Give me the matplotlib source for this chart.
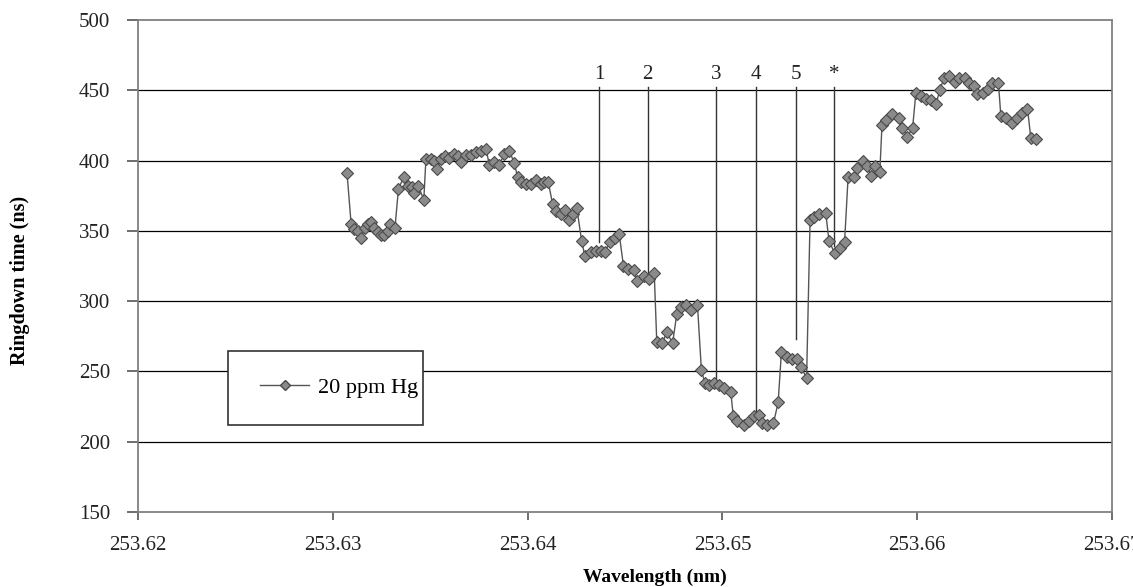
import numpy as np
import matplotlib
matplotlib.use("Agg")
import matplotlib.pyplot as plt
from matplotlib.patches import Rectangle
from matplotlib.lines import Line2D

matplotlib.rcParams.update({"font.family": "Liberation Serif"})

# Messdaten: Ringdown-Zeit gegen Wellenlänge (20 ppm Hg)
wavelength = [
    253.63073, 253.63094, 253.63111, 253.63128, 253.63145, 253.63163, 253.63179,
    253.63196, 253.63214, 253.63231, 253.63248, 253.63265, 253.63282, 253.63296,
    253.63319, 253.63337, 253.63364, 253.63385, 253.63405, 253.63419, 253.63439,
    253.63467, 253.63478, 253.63504, 253.63522, 253.63535, 253.63555, 253.63576,
    253.63598, 253.63624, 253.63641, 253.63658, 253.63684, 253.63709, 253.63735,
    253.63761, 253.63786, 253.63804, 253.63829, 253.63855, 253.63881, 253.63906,
    253.63932, 253.63949, 253.63966, 253.63991, 253.64017, 253.64043, 253.64068,
    253.64086, 253.64106, 253.64128, 253.64145, 253.64171, 253.64191, 253.64214,
    253.64231, 253.64253, 253.64277, 253.64294, 253.64325, 253.64350, 253.64376,
    253.64396, 253.64424, 253.64448, 253.64470, 253.64492, 253.64513, 253.64544,
    253.64564, 253.64595, 253.64624, 253.64650, 253.64663, 253.64692, 253.64714,
    253.64744, 253.64766, 253.64786, 253.64812, 253.64837, 253.64872, 253.64892,
    253.64909, 253.64932, 253.64957, 253.64983, 253.65009, 253.65043, 253.65056,
    253.65077, 253.65111, 253.65137, 253.65163, 253.65188, 253.65205, 253.65231,
    253.65262, 253.65286, 253.65303, 253.65330, 253.65359, 253.65385, 253.65405,
    253.65432, 253.65450, 253.65470, 253.65496, 253.65530, 253.65547, 253.65576,
    253.65604, 253.65627, 253.65645, 253.65675, 253.65692, 253.65723, 253.65744,
    253.65762, 253.65785, 253.65808, 253.65819, 253.65840, 253.65870, 253.65904,
    253.65922, 253.65950, 253.65976, 253.65993, 253.66019, 253.66045, 253.66070,
    253.66096, 253.66116, 253.66138, 253.66164, 253.66195, 253.66215, 253.66246,
    253.66267, 253.66292, 253.66309, 253.66338, 253.66361, 253.66383, 253.66417,
    253.66429, 253.66455, 253.66486, 253.66514, 253.66540, 253.66566, 253.66583,
    253.66609,
]
ringdown = [
    391, 355, 351, 350, 345, 352, 355,
    356, 352, 349, 347, 347, 350, 355,
    352, 380, 388, 382, 381, 377, 382,
    372, 401, 401, 400, 394, 401, 403,
    402, 405, 403, 399, 404, 404, 406,
    407, 408, 397, 399, 397, 405, 407,
    398, 388, 385, 383, 383, 386, 383,
    385, 385, 369, 364, 362, 365, 358,
    362, 366, 343, 332, 335, 336, 336,
    335, 342, 345, 348, 325, 323, 322,
    314, 318, 316, 320, 271, 270, 278,
    270, 291, 296, 297, 294, 297, 251,
    242, 240, 242, 240, 238, 235, 218,
    215, 212, 215, 218, 219, 213, 212,
    213, 228, 264, 260, 259, 259, 253,
    245, 358, 360, 362, 363, 343, 334,
    338, 342, 388, 388, 395, 400, 396,
    389, 396, 392, 425, 429, 433, 430,
    423, 417, 423, 448, 446, 444, 443,
    440, 450, 459, 460, 456, 459, 459,
    455, 453, 447, 448, 451, 455, 455,
    432, 430, 427, 430, 434, 437, 416,
    415,
]

# Markierte Linien (Beschriftung, Wellenlänge, unteres Ende)
mark_labels = ["1", "2", "3", "4", "5", "*"]
mark_wl = [253.64366, 253.64617, 253.64968, 253.65173, 253.65378, 253.65574]
mark_bottom = [342, 318, 243, 218, 273, 339]
MARK_TOP = 452

xticks = [253.62, 253.63, 253.64, 253.65, 253.66, 253.67]
yticks = [150, 200, 250, 300, 350, 400, 450, 500]

fig = plt.figure(figsize=(11.33, 5.87), dpi=100)
ax = fig.add_axes([0.1218, 0.1278, 0.8597, 0.8382])

ax.set_xlim(253.62, 253.67)
ax.set_ylim(150, 500)

# horizontale Gitterlinien
for y in yticks[1:-1]:
    ax.axhline(y, color="black", linewidth=0.9, zorder=1)

# senkrechte Markierungslinien mit Beschriftung
for lab, x, yb in zip(mark_labels, mark_wl, mark_bottom):
    ax.plot([x, x], [yb, MARK_TOP], color="#333333", linewidth=1.0, zorder=2)
    ax.text(x, 461, lab, ha="center", va="center", fontsize=15, color="#222222")

ax.plot(wavelength, ringdown, "-", color="#555555", linewidth=1.0,
        marker="D", markersize=6.5, markerfacecolor="#8a8a8a",
        markeredgecolor="#4a4a4a", markeredgewidth=0.8, zorder=3)

# Legende mit weißem Kasten
ax.add_patch(Rectangle((0.0924, 0.177), 0.2, 0.15, transform=ax.transAxes,
                       facecolor="white", edgecolor="#333333", linewidth=1.2,
                       zorder=4))
handle = Line2D([], [], color="#555555", linewidth=1.0, marker="D",
                markersize=5, markerfacecolor="#8a8a8a",
                markeredgecolor="#4a4a4a")
leg = ax.legend([handle], ["20 ppm Hg"], loc="center left",
                bbox_to_anchor=(0.105, 0.252), frameon=False, fontsize=16,
                handlelength=2.2, handletextpad=0.4)
leg.set_zorder(5)

for side in ["left", "bottom", "right", "top"]:
    ax.spines[side].set_color("#808080")
    ax.spines[side].set_linewidth(1.3)

ax.set_xticks(xticks)
ax.set_xticklabels([f"{t:.2f}" for t in xticks])
ax.set_yticks(yticks)
ax.tick_params(axis="x", length=6, width=1.2, color="#555555", pad=11,
               labelsize=15, labelcolor="#222222")
ax.tick_params(axis="y", length=8, width=1.2, color="#555555", pad=12,
               labelsize=15, labelcolor="#222222")

ax.set_xlabel("Wavelength (nm)", fontsize=14, fontweight="bold", va="center")
ax.xaxis.set_label_coords(0.531, -0.133)
ax.set_ylabel("Ringdown time (ns)", fontsize=14.5, fontweight="bold",
              va="center")
ax.yaxis.set_label_coords(-0.121, 0.47)

fig.savefig("out.png", dpi=100)
